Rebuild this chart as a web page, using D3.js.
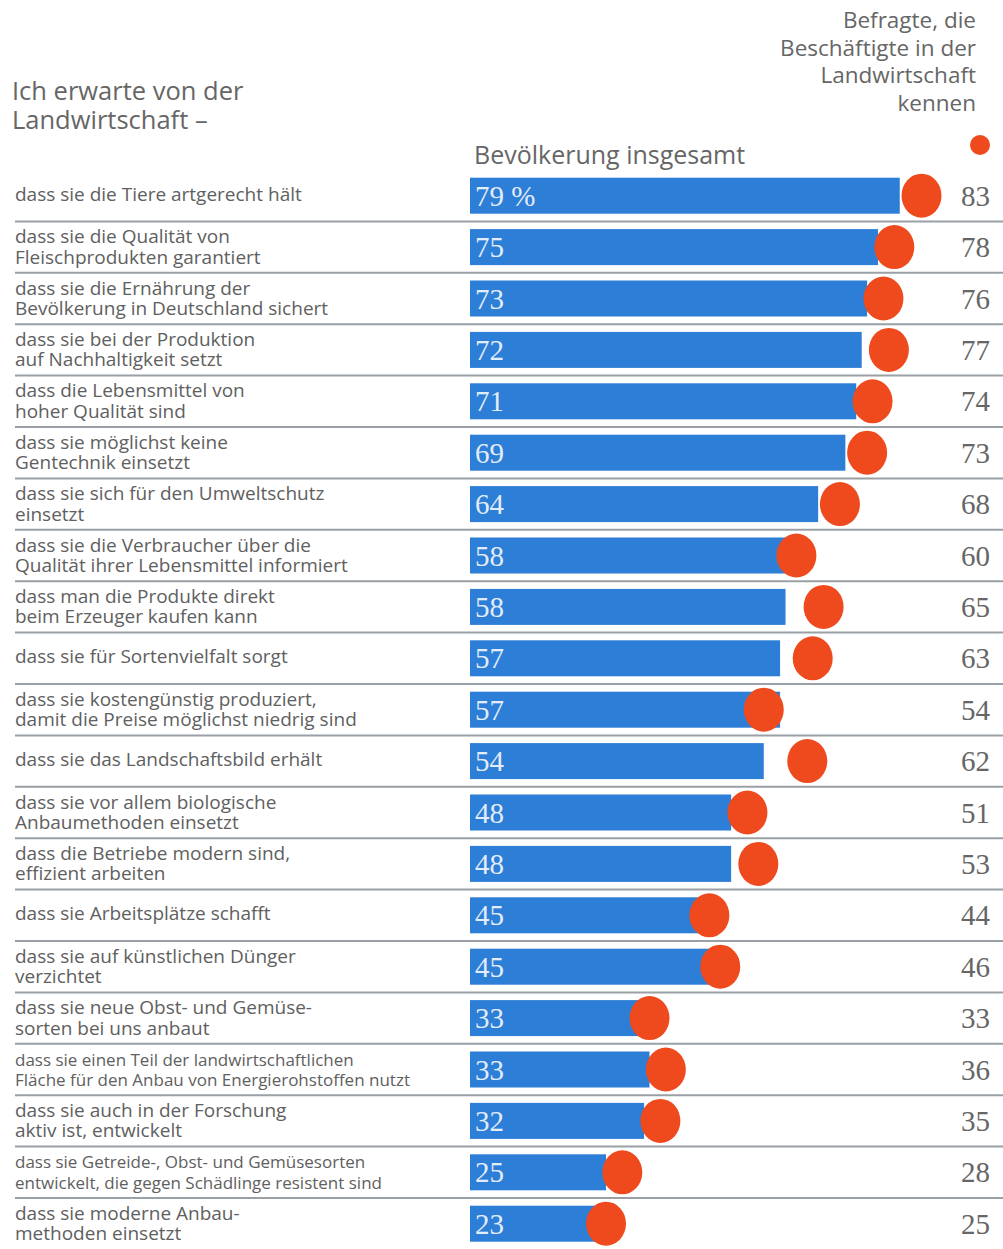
<!DOCTYPE html>
<html lang="de">
    <head>
        <meta charset="utf-8">
        <title>Ich erwarte von der Landwirtschaft</title>
        <script type="text/javascript" src="https://d3js.org/d3.v7.min.js"></script>
        <style type="text/css">
            body { margin: 0; background: #ffffff; }
            .label { font-family: "Open Sans", "Lato", sans-serif; font-size: 19px; fill: #606060; }
            .head { font-family: "Open Sans", "Lato", sans-serif; font-size: 22.5px; fill: #666666; }
            .num { font-family: "Liberation Serif", "DejaVu Serif", serif; font-size: 29px; }
        </style>
    </head>
    <body>
        <script type="text/javascript">

            const width = 1003;
            const height = 1249;

            // Aussagen (Zeilen, mit Zeilenumbruch)
            const categories = [
                ["dass sie die Tiere artgerecht hält"],
                ["dass sie die Qualität von", "Fleischprodukten garantiert"],
                ["dass sie die Ernährung der", "Bevölkerung in Deutschland sichert"],
                ["dass sie bei der Produktion", "auf Nachhaltigkeit setzt"],
                ["dass die Lebensmittel von", "hoher Qualität sind"],
                ["dass sie möglichst keine", "Gentechnik einsetzt"],
                ["dass sie sich für den Umweltschutz", "einsetzt"],
                ["dass sie die Verbraucher über die", "Qualität ihrer Lebensmittel informiert"],
                ["dass man die Produkte direkt", "beim Erzeuger kaufen kann"],
                ["dass sie für Sortenvielfalt sorgt"],
                ["dass sie kostengünstig produziert,", "damit die Preise möglichst niedrig sind"],
                ["dass sie das Landschaftsbild erhält"],
                ["dass sie vor allem biologische", "Anbaumethoden einsetzt"],
                ["dass die Betriebe modern sind,", "effizient arbeiten"],
                ["dass sie Arbeitsplätze schafft"],
                ["dass sie auf künstlichen Dünger", "verzichtet"],
                ["dass sie neue Obst- und Gemüse-", "sorten bei uns anbaut"],
                ["dass sie einen Teil der landwirtschaftlichen", "Fläche für den Anbau von Energierohstoffen nutzt"],
                ["dass sie auch in der Forschung", "aktiv ist, entwickelt"],
                ["dass sie Getreide-, Obst- und Gemüsesorten", "entwickelt, die gegen Schädlinge resistent sind"],
                ["dass sie moderne Anbau-", "methoden einsetzt"]
            ];

            // Bevölkerung insgesamt (Balken)
            const bevoelkerung = [79, 75, 73, 72, 71, 69, 64, 58, 58, 57, 57, 54, 48, 48, 45, 45, 33, 33, 32, 25, 23];

            // Befragte, die Beschäftigte in der Landwirtschaft kennen (Punkte)
            const kennen = [83, 78, 76, 77, 74, 73, 68, 60, 65, 63, 54, 62, 51, 53, 44, 46, 33, 36, 35, 28, 25];

            const dataset = categories.map((c, i) => ({ i: i, label: c, a: bevoelkerung[i], b: kennen[i] }));

            const blue = "#2d7ed6";
            const red = "#ef4a1e";

            const xScale = d3.scaleLinear()
                             .domain([0, 100])
                             .range([470, 1014]);

            const yScale = d3.scaleBand()
                             .domain(dataset.map(d => d.i))
                             .range([170, 1249.4]);

            const svg = d3.select("body")
                          .append("svg")
                          .attr("width", width)
                          .attr("height", height);

            // Kopf links
            svg.append("text").attr("class", "head").attr("x", 12).attr("y", 100).style("font-size", "25.5px").text("Ich erwarte von der");
            svg.append("text").attr("class", "head").attr("x", 12).attr("y", 129).style("font-size", "25.5px").text("Landwirtschaft –");

            // Kopf rechts
            const rightHead = ["Befragte, die", "Beschäftigte in der", "Landwirtschaft", "kennen"];
            svg.selectAll("text.rh")
               .data(rightHead)
               .enter()
               .append("text")
               .attr("class", "head rh")
               .attr("text-anchor", "end")
               .attr("x", 976)
               .attr("y", (d, i) => 28 + i * 27.5)
               .text(d => d);

            svg.append("circle")
               .attr("cx", 980)
               .attr("cy", 145)
               .attr("r", 10)
               .attr("fill", red);

            svg.append("text")
               .attr("class", "head")
               .attr("x", 474)
               .attr("y", 164)
               .style("font-size", "25px")
               .text("Bevölkerung insgesamt");

            // Trennlinien
            svg.selectAll("line.sep")
               .data(dataset.slice(1))
               .enter()
               .append("line")
               .attr("class", "sep")
               .attr("x1", 15)
               .attr("x2", width)
               .attr("y1", d => yScale(d.i))
               .attr("y2", d => yScale(d.i))
               .attr("stroke", "#9aa0a6")
               .attr("stroke-width", 2);

            const rows = svg.selectAll("g.row")
                            .data(dataset)
                            .enter()
                            .append("g")
                            .attr("class", "row")
                            .attr("transform", d => "translate(0," + (yScale(d.i) + yScale.bandwidth() / 2) + ")");

            // Beschriftung (die sehr langen Zeilen etwas kleiner)
            rows.append("text")
                .attr("class", "label")
                .attr("x", 15)
                .attr("y", d => d.label.length > 1 ? -4 : 5)
                .style("font-size", d => d.label.some(s => s.length > 40) ? "17px" : null)
                .selectAll("tspan")
                .data(d => d.label)
                .enter()
                .append("tspan")
                .attr("x", 15)
                .attr("dy", (d, i) => i === 0 ? 0 : 20.5)
                .text(d => d);

            // Balken
            rows.append("rect")
                .attr("x", xScale(0))
                .attr("y", -18)
                .attr("width", d => xScale(d.a) - xScale(0))
                .attr("height", 36)
                .attr("fill", blue);

            // Punkte
            rows.append("ellipse")
                .attr("cx", d => xScale(d.b))
                .attr("cy", 0)
                .attr("rx", 20)
                .attr("ry", 22)
                .attr("fill", red);

            // Werte im Balken
            rows.append("text")
                .attr("class", "num")
                .attr("x", xScale(0) + 5)
                .attr("y", 10)
                .attr("fill", "#e2ecfa")
                .text(d => d.i === 0 ? d.a + " %" : d.a);

            // Werte rechts
            rows.append("text")
                .attr("class", "num")
                .attr("text-anchor", "end")
                .attr("x", 990)
                .attr("y", 10)
                .attr("fill", "#666")
                .text(d => d.b);

        </script>
    </body>
</html>
